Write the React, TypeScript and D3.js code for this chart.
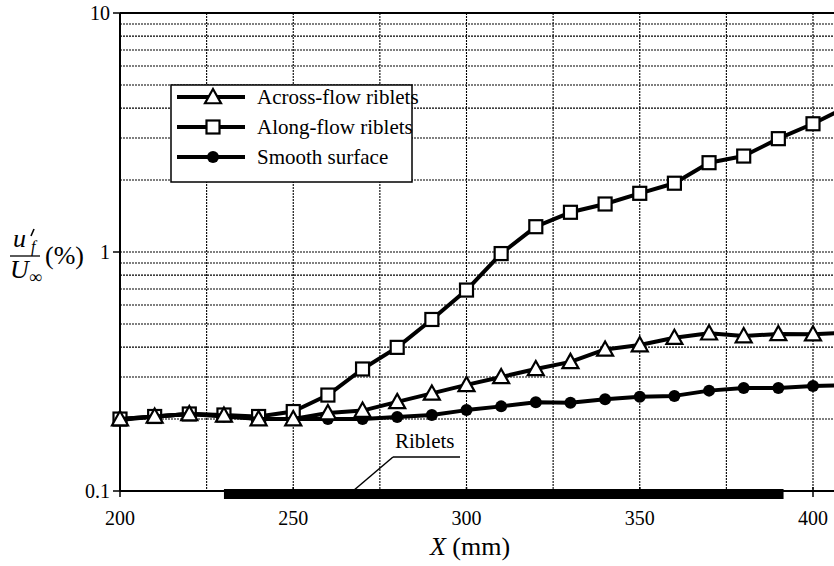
import React, { useLayoutEffect, useRef } from "react";
import * as d3 from "d3";

const xValues = [200, 210, 220, 230, 240, 250, 260, 270, 280, 290, 300, 310, 320, 330, 340, 350, 360, 370, 380, 390, 400, 410];
const acrossFlow = [0.2, 0.205, 0.21, 0.207, 0.2, 0.2, 0.212, 0.217, 0.236, 0.256, 0.278, 0.3, 0.324, 0.347, 0.391, 0.408, 0.438, 0.457, 0.445, 0.454, 0.453, 0.46];
const alongFlow = [0.2, 0.205, 0.21, 0.208, 0.205, 0.215, 0.252, 0.324, 0.399, 0.522, 0.693, 0.985, 1.276, 1.466, 1.588, 1.76, 1.94, 2.364, 2.52, 2.98, 3.44, 4.06];
const smooth = [0.198, 0.205, 0.21, 0.205, 0.2, 0.2, 0.2, 0.2, 0.204, 0.208, 0.218, 0.226, 0.235, 0.234, 0.242, 0.248, 0.25, 0.263, 0.27, 0.27, 0.275, 0.277];
const xTicks = [200, 250, 300, 350, 400];
const xGrid = [225, 250, 275, 300, 325, 350, 375, 400, 425];
const yTicks = [0.1, 1, 10];
const yTickLabels = ["0.1", "1", "10"];
const legendLabels = ["Across-flow riblets", "Along-flow riblets", "Smooth surface"];
const ribletRange = [230, 391.5];

const W = 834;
const H = 566;
const FF = ['"Liber' + 'ation', 'Se' + 'rif",', 'Tinos,', '"Times', 'New', 'Roman",', 'Times'].join(" ");

function T(props: any) {
  const { children, style, ...rest } = props;
  return (
    <text style={{ fontFamily: FF, ...(style || {}) }} {...rest}>
      {children}
    </text>
  );
}

export default function App() {
  const svgRef = useRef<SVGSVGElement | null>(null);
  useLayoutEffect(() => {
    const el = document.createElement("style");
    el.textContent = `svg text, svg tspan { font-family: ${FF} !important; }`;
    document.head.appendChild(el);
    if (svgRef.current) {
      d3.select(svgRef.current).selectAll("text").style("font-family", FF, "important");
    }
    return () => {
      el.remove();
    };
  }, []);

  const x = d3.scaleLinear().domain([200, 400]).range([120, 813]);
  const y = d3.scaleLog().domain([0.1, 10]).range([491, 13]);

  const yGrid: number[] = [];
  [0.1, 1].forEach((dec) => {
    for (let k = 2; k <= 9; k++) yGrid.push(dec * k);
  });
  yGrid.push(1);

  const line = d3
    .line<[number, number]>()
    .x((d) => x(d[0]))
    .y((d) => y(d[1]));

  const series = [
    { name: legendLabels[0], values: acrossFlow, marker: "triangle" },
    { name: legendLabels[1], values: alongFlow, marker: "square" },
    { name: legendLabels[2], values: smooth, marker: "circle" },
  ];

  const marker = (type: string, cx: number, cy: number, key: string | number) => {
    if (type === "triangle") {
      const s = 8;
      const p = `M${cx},${cy - s}L${cx + s},${cy + s * 0.78}L${cx - s},${cy + s * 0.78}Z`;
      return <path key={key} d={p} fill="#fff" stroke="#000" strokeWidth={2.2} strokeLinejoin="miter" />;
    }
    if (type === "square") {
      const s = 6.5;
      return <rect key={key} x={cx - s} y={cy - s} width={2 * s} height={2 * s} fill="#fff" stroke="#000" strokeWidth={2.2} />;
    }
    return <circle key={key} cx={cx} cy={cy} r={6} fill="#000" />;
  };

  const plotRight = W + 10;
  const drawOrder = [2, 1, 0];

  return (
    <svg ref={svgRef} width={W} height={H} style={{ position: "absolute", left: 0, top: 0, background: "#fff", fontFamily: FF }}>
      <rect x={0} y={0} width={W} height={H} fill="#fff" />
      {/* horizontal grid */}
      {yGrid.map((v, i) => (
        <line key={"hg" + i} x1={x(200)} x2={plotRight} y1={y(v)} y2={y(v)} stroke="#000" strokeWidth={1.1} strokeDasharray="2,1" />
      ))}
      {/* vertical grid */}
      {xGrid.map((v, i) => (
        <line key={"vg" + i} x1={x(v)} x2={x(v)} y1={y(10)} y2={y(0.1)} stroke="#000" strokeWidth={1.1} strokeDasharray="2,1" />
      ))}
      {/* axes */}
      <line x1={x(200)} x2={x(200)} y1={y(10)} y2={y(0.1)} stroke="#000" strokeWidth={2} />
      <line x1={x(200)} x2={plotRight} y1={y(0.1)} y2={y(0.1)} stroke="#000" strokeWidth={2} />
      <line x1={x(200)} x2={plotRight} y1={y(10)} y2={y(10)} stroke="#000" strokeWidth={2} />
      {/* y ticks */}
      {yTicks.map((v, i) => (
        <g key={"yt" + i}>
          <line x1={x(200) - 7} x2={x(200)} y1={y(v)} y2={y(v)} stroke="#000" strokeWidth={1.5} />
          <T x={x(200) - 10} y={y(v)} dy="0.35em" textAnchor="end" fontSize={20}>
            {yTickLabels[i]}
          </T>
        </g>
      ))}
      {/* x ticks */}
      {xTicks.map((v, i) => (
        <g key={"xt" + i}>
          <line x1={x(v)} x2={x(v)} y1={y(0.1) - 4} y2={y(0.1) + 6} stroke="#000" strokeWidth={1.5} />
          <T x={x(v)} y={525} textAnchor="middle" fontSize={20}>
            {v}
          </T>
        </g>
      ))}
      {/* riblets bar */}
      <rect x={x(ribletRange[0])} y={489} width={x(ribletRange[1]) - x(ribletRange[0])} height={10} fill="#000" />
      {/* riblets annotation */}
      <T x={395} y={448} fontSize={21}>Riblets</T>
      <line x1={393} x2={460} y1={457} y2={457} stroke="#000" strokeWidth={1.5} />
      <line x1={393} x2={353} y1={457} y2={491} stroke="#000" strokeWidth={1.5} />
      {/* series */}
      {drawOrder.map((si) => {
        const s = series[si];
        const pts: [number, number][] = xValues.map((xv, i) => [xv, s.values[i]]);
        return (
          <g key={"s" + si}>
            <path d={line(pts) || ""} fill="none" stroke="#000" strokeWidth={4} strokeLinejoin="round" />
            {pts.map((p, i) => marker(s.marker, x(p[0]), y(p[1]), i))}
          </g>
        );
      })}
      {/* legend */}
      <rect x={171} y={85} width={241} height={97} fill="#fff" stroke="#000" strokeWidth={1.5} />
      {series.map((s, i) => {
        const ly = 97 + i * 30;
        return (
          <g key={"lg" + i}>
            <line x1={177} x2={245} y1={ly} y2={ly} stroke="#000" strokeWidth={4} />
            {marker(s.marker, 213, ly, "m")}
            <T x={257} y={ly} dy="0.35em" fontSize={21}>
              {s.name}
            </T>
          </g>
        );
      })}
      {/* y axis label */}
      <g>
        <T x={13} y={247} fontSize={26} fontStyle="italic">
          u
        </T>
        <path d="M34,229 L31,236" stroke="#000" strokeWidth={1.6} />
        <T x={31} y={252} fontSize={16} fontStyle="italic">
          f
        </T>
        <line x1={10} x2={40} y1={256} y2={256} stroke="#000" strokeWidth={1.3} />
        <T x={10} y={278} fontSize={26} fontStyle="italic">
          U
        </T>
        <T x={29} y={283} fontSize={18}>
          ∞
        </T>
        <T x={45} y={264} fontSize={26}>(%)</T>
      </g>
      {/* x axis label */}
      <T x={470} y={555} textAnchor="middle" fontSize={26}>
        <tspan fontStyle="italic">X</tspan> (mm)
      </T>
    </svg>
  );
}
